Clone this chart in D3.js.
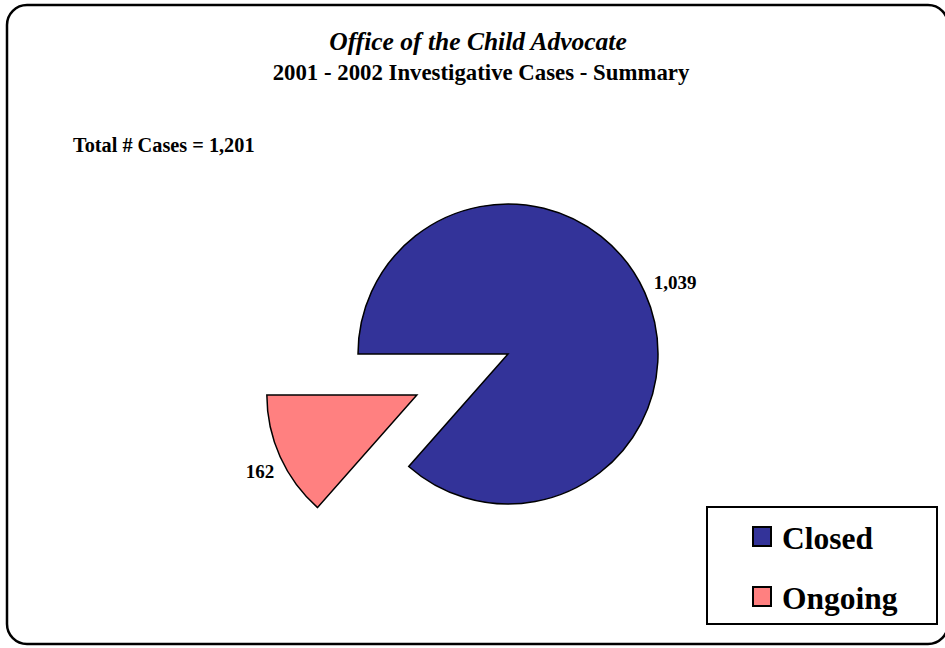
<!DOCTYPE html>
<html>
<head>
<meta charset="utf-8">
<script src="https://cdn.jsdelivr.net/npm/d3@7"></script>
<style>
  html, body { margin: 0; background: #fff; overflow: hidden; }
  svg { display: block; font-family: "Liberation Serif", "Times New Roman", serif; }
</style>
</head>
<body>
<div id="chart"></div>
<script>
const categories = ["Closed", "Ongoing"];
const values = [1039, 162];
const labels = ["1,039", "162"];
const colors = ["#333399", "#FF8080"];
const total = "1,201";

const width = 945;
const height = 648;

const svg = d3.select("#chart")
    .append("svg")
    .attr("width", width)
    .attr("height", height);

// outer rounded frame (right edge runs off the page)
svg.append("rect")
    .attr("x", 7).attr("y", 5)
    .attr("width", 941).attr("height", 639)
    .attr("rx", 20).attr("ry", 20)
    .attr("fill", "none")
    .attr("stroke", "#000")
    .attr("stroke-width", 2.5);

svg.append("text")
    .attr("x", 478).attr("y", 50)
    .attr("text-anchor", "middle")
    .attr("font-size", 25.5)
    .attr("font-style", "italic")
    .attr("font-weight", "bold")
    .text("Office of the Child Advocate");

svg.append("text")
    .attr("x", 481).attr("y", 80)
    .attr("text-anchor", "middle")
    .attr("font-size", 22.8)
    .attr("font-weight", "bold")
    .text("2001 - 2002 Investigative Cases - Summary");

svg.append("text")
    .attr("x", 73).attr("y", 152)
    .attr("font-size", 20.3)
    .attr("font-weight", "bold")
    .text("Total # Cases = " + total);

// pie
const cx = 508, cy = 354, r = 150, explode = 100;

const pie = d3.pie()
    .sort(null)
    .startAngle(-Math.PI / 2)
    .endAngle(1.5 * Math.PI);

const arc = d3.arc().innerRadius(0).outerRadius(r);
const slices = pie(values);

const g = svg.append("g").attr("transform", `translate(${cx},${cy})`);

g.selectAll("path")
    .data(slices)
    .enter()
    .append("path")
    .attr("d", arc)
    .attr("transform", (d, i) => {
        if (i !== 1) return null;
        const a = (d.startAngle + d.endAngle) / 2;
        return `translate(${explode * Math.sin(a)},${-explode * Math.cos(a)})`;
    })
    .attr("fill", (d, i) => colors[i])
    .attr("stroke", "#000")
    .attr("stroke-width", 1.5)
    .attr("stroke-linejoin", "miter");

// value labels
const labelPos = [[167, -65], [-248, 124]];
g.selectAll("text.val")
    .data(slices)
    .enter()
    .append("text")
    .attr("class", "val")
    .attr("x", (d, i) => labelPos[i][0])
    .attr("y", (d, i) => labelPos[i][1])
    .attr("text-anchor", "middle")
    .attr("font-size", 19)
    .attr("font-weight", "bold")
    .text((d, i) => labels[i]);

// legend
svg.append("rect")
    .attr("x", 707).attr("y", 507)
    .attr("width", 230).attr("height", 117)
    .attr("fill", "#fff")
    .attr("stroke", "#000")
    .attr("stroke-width", 2);

const leg = svg.append("g");
categories.forEach((c, i) => {
    const y0 = 527 + i * 60;
    leg.append("rect")
        .attr("x", 753).attr("y", y0)
        .attr("width", 18).attr("height", 19)
        .attr("fill", colors[i])
        .attr("stroke", "#000")
        .attr("stroke-width", 2);
    leg.append("text")
        .attr("x", 782).attr("y", y0 + 22)
        .attr("font-size", 31.5)
        .attr("font-weight", "bold")
        .text(c);
});
</script>
</body>
</html>
